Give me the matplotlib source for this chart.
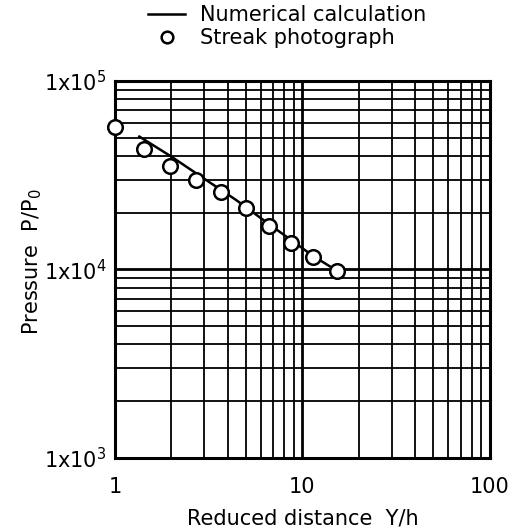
import matplotlib
matplotlib.use("Agg")
import matplotlib.pyplot as plt
from matplotlib.ticker import LogLocator, FixedLocator, NullFormatter

# Streak photograph measurements (reduced distance Y/h, pressure P/P0)
streak_x = [1.0, 1.43, 1.97, 2.71, 3.68, 5.03, 6.64, 8.72, 11.4, 15.3]
streak_p = [57300, 43400, 35400, 29800, 25800, 21300, 17000, 13900, 11600, 9860]

# Numerical calculation curve
calc_x = [1.35, 2.0, 2.88, 4.42, 6.64, 11.4, 16.6]
calc_p = [50700, 39700, 31100, 23400, 17400, 11800, 9350]

x_ticks = [1, 10, 100]
x_labels = ["1", "10", "100"]
y_ticks = [1e3, 1e4, 1e5]
y_labels = [r"1x10$^3$", r"1x10$^4$", r"1x10$^5$"]

plt.rcParams["font.family"] = "DejaVu Sans"
FS = 15

fig = plt.figure(figsize=(5.13, 5.31), dpi=100)
ax = fig.add_axes([0.224, 0.1375, 0.731, 0.71])

ax.set_xscale("log")
ax.set_yscale("log")
ax.set_xlim(1, 100)
ax.set_ylim(1e3, 1e5)

ax.xaxis.set_major_locator(FixedLocator(x_ticks))
ax.yaxis.set_major_locator(FixedLocator(y_ticks))
ax.xaxis.set_minor_locator(LogLocator(base=10, subs=range(2, 10)))
ax.yaxis.set_minor_locator(LogLocator(base=10, subs=range(2, 10)))
ax.xaxis.set_minor_formatter(NullFormatter())
ax.yaxis.set_minor_formatter(NullFormatter())
ax.set_xticklabels(x_labels)
ax.set_yticklabels(y_labels)

ax.grid(True, which="major", color="black", lw=2.0)
ax.grid(True, which="minor", color="black", lw=1.3)
ax.set_axisbelow(True)
ax.tick_params(which="both", length=0, labelsize=FS)
ax.tick_params(axis="x", pad=14)
ax.tick_params(axis="y", pad=6)
for s in ax.spines.values():
    s.set_linewidth(2.2)

ax.plot(calc_x, calc_p, color="black", lw=1.8, label="Numerical calculation", zorder=3)
ax.plot(streak_x, streak_p, "o", ms=10.5, mfc="white", mec="black", mew=1.8,
        label="Streak photograph", clip_on=False, zorder=4)

ax.set_xlabel("Reduced distance  Y/h", fontsize=FS, labelpad=8)
ax.set_ylabel(r"Pressure  P/P$_0$", fontsize=FS)
ax.yaxis.set_label_coords(-0.19, 0.52)

# legend sits above the plot frame, outside the axes
fig.legend(*ax.get_legend_handles_labels(), loc="upper left",
           bbox_to_anchor=(0.268, 1.01), frameon=False, fontsize=FS,
           handlelength=1.8, handletextpad=0.7, labelspacing=0.15,
           borderpad=0.0, markerscale=0.8)

fig.savefig("out.png", dpi=100)
